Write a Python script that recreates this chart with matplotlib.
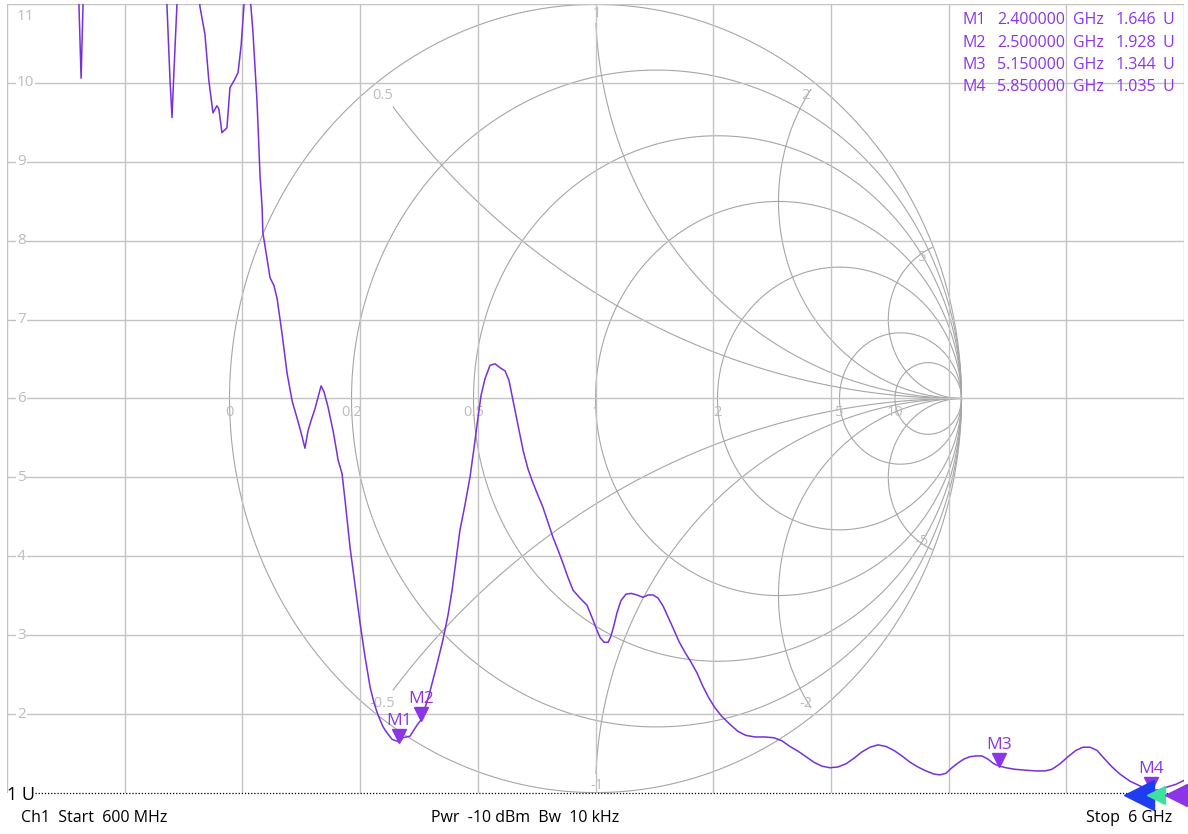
import numpy as np
import matplotlib.pyplot as plt
from matplotlib.transforms import offset_copy, blended_transform_factory

plt.rcParams['font.family'] = ['Open Sans', 'DejaVu Sans']

# VSWR trace (frequency in GHz, VSWR in U)
freq_ghz = [0.600, 0.843, 0.917, 0.930, 0.940, 0.949, 0.962, 1.027,
            1.256, 1.316, 1.334, 1.348, 1.357, 1.366, 1.380, 1.398, 1.430, 1.467,
            1.485, 1.508, 1.526, 1.545, 1.563, 1.572, 1.586, 1.609, 1.623, 1.642,
            1.660, 1.674, 1.687, 1.697, 1.710, 1.719, 1.728, 1.747, 1.761, 1.770,
            1.774, 1.793, 1.807, 1.825, 1.839, 1.862, 1.885, 1.908, 1.931, 1.949,
            1.967, 1.981, 1.995, 2.013, 2.041, 2.055, 2.073, 2.096, 2.110, 2.119,
            2.137, 2.151, 2.174, 2.197, 2.220, 2.243, 2.266, 2.284, 2.302, 2.325,
            2.344, 2.367, 2.400, 2.417, 2.431, 2.449, 2.467, 2.481, 2.500, 2.518,
            2.536, 2.554, 2.577, 2.600, 2.623, 2.642, 2.660, 2.678, 2.701, 2.724,
            2.743, 2.761, 2.775, 2.793, 2.816, 2.839, 2.862, 2.885, 2.903, 2.922,
            2.945, 2.968, 2.990, 3.009, 3.032, 3.059, 3.082, 3.105, 3.128, 3.151,
            3.174, 3.197, 3.229, 3.261, 3.289, 3.307, 3.321, 3.339, 3.358, 3.371,
            3.385, 3.399, 3.417, 3.440, 3.463, 3.490, 3.518, 3.541, 3.564, 3.587,
            3.610, 3.633, 3.656, 3.683, 3.711, 3.738, 3.766, 3.793, 3.821, 3.848,
            3.880, 3.917, 3.954, 3.990, 4.032, 4.078, 4.119, 4.156, 4.192, 4.229,
            4.266, 4.302, 4.339, 4.376, 4.412, 4.449, 4.486, 4.522, 4.559, 4.596,
            4.633, 4.669, 4.706, 4.743, 4.779, 4.816, 4.853, 4.880, 4.908, 4.935,
            4.963, 4.990, 5.018, 5.045, 5.073, 5.100, 5.128, 5.150, 5.183, 5.225,
            5.271, 5.317, 5.362, 5.394, 5.431, 5.468, 5.504, 5.536, 5.569, 5.601,
            5.633, 5.670, 5.706, 5.752, 5.798, 5.850, 5.890, 5.927, 5.963, 6.000]
vswr = [14.0, 14.0, 12.0, 11.0, 10.06, 11.0, 12.5, 14.0,
        14.0, 12.0, 10.97, 10.03, 9.56, 10.15, 10.99, 12.5, 13.5, 12.0,
        10.97, 10.62, 10.03, 9.62, 9.71, 9.67, 9.37, 9.43, 9.94, 10.03,
        10.13, 10.47, 10.97, 11.5, 11.3, 10.97, 10.66, 9.77, 8.82, 8.44,
        8.10, 7.77, 7.53, 7.43, 7.27, 6.82, 6.32, 5.97, 5.75, 5.57,
        5.37, 5.59, 5.72, 5.87, 6.16, 6.08, 5.89, 5.59, 5.37, 5.22,
        5.05, 4.71, 4.11, 3.63, 3.15, 2.72, 2.34, 2.14, 1.99, 1.84,
        1.76, 1.68, 1.646, 1.70, 1.71, 1.72, 1.80, 1.86, 1.928, 2.08,
        2.24, 2.43, 2.68, 2.94, 3.25, 3.57, 3.95, 4.33, 4.65, 5.00,
        5.38, 5.76, 6.04, 6.25, 6.42, 6.44, 6.39, 6.35, 6.23, 5.97,
        5.66, 5.34, 5.11, 4.96, 4.80, 4.62, 4.43, 4.24, 4.08, 3.91,
        3.73, 3.57, 3.47, 3.38, 3.19, 3.06, 2.97, 2.91, 2.91, 2.99,
        3.13, 3.29, 3.44, 3.52, 3.53, 3.51, 3.48, 3.51, 3.51, 3.47,
        3.37, 3.23, 3.09, 2.92, 2.78, 2.66, 2.52, 2.35, 2.20, 2.08,
        1.97, 1.87, 1.78, 1.73, 1.71, 1.71, 1.70, 1.66, 1.59, 1.53,
        1.46, 1.39, 1.34, 1.32, 1.33, 1.37, 1.44, 1.52, 1.58, 1.61,
        1.59, 1.54, 1.47, 1.39, 1.33, 1.28, 1.24, 1.23, 1.25, 1.32,
        1.38, 1.43, 1.46, 1.47, 1.47, 1.43, 1.37, 1.344, 1.32, 1.30,
        1.29, 1.28, 1.28, 1.30, 1.37, 1.46, 1.54, 1.58, 1.58, 1.54,
        1.44, 1.33, 1.24, 1.15, 1.09, 1.035, 1.04, 1.08, 1.11, 1.16]

mk_names = ['M1', 'M2', 'M3', 'M4']
mk_freq = [2.4, 2.5, 5.15, 5.85]
mk_vswr = [1.646, 1.928, 1.344, 1.035]

vswr_ticks = [2, 3, 4, 5, 6, 7, 8, 9, 10, 11]

# smith chart overlay
r_circles = [0, 0.2, 0.5, 1, 2, 5, 10]
r_labels = ['0', '0.2', '0.5', '1', '2', '5', '10']
x_arcs = [0.5, 1, 2, 5]
x_labels = ['0.5', '1', '2', '5']

grid_col = '#c3c3c3'
smith_col = '#a6a6a6'
label_col = '#bcbcbc'
trace_col = '#7630dc'
mk_col = '#8b35e6'

W, H = 1188, 834
fig = plt.figure(figsize=(W / 100, H / 100), dpi=100)
pos = [7 / W, 41 / H, 1177 / W, 789 / H]

# smith chart axes (reflection plane), sits under the trace axes
sm = fig.add_axes(pos)
sm.set_xlim(-1.608, 1.608)
sm.set_ylim(-1.001, 1.001)
sm.axis('off')

t = np.linspace(0, 2 * np.pi, 500)
for r in r_circles:
    c = r / (1 + r)
    rad = 1 / (1 + r)
    sm.plot(c + rad * np.cos(t), rad * np.sin(t), color=smith_col, lw=0.8)

rr = np.logspace(np.log10(0.05), 4, 800)
for xv in x_arcs:
    for s in (1, -1):
        z = rr + 1j * s * xv
        g = (z - 1) / (z + 1)
        sm.plot(g.real, g.imag, color=smith_col, lw=0.8)

for r, lab in zip(r_circles, r_labels):
    sm.text((r - 1) / (r + 1), -0.035, lab, ha='center', va='center',
            color=label_col, fontsize=10.5)

x_label_pos = [(-0.582, 0.768), (0.003, 0.977), (0.574, 0.768), (0.893, 0.359)]
for (gx, gy), lab in zip(x_label_pos, x_labels):
    sm.text(gx, gy, lab, ha='center', va='center', color=label_col, fontsize=10.5)
    sm.text(gx, -gy - 0.005, '-' + lab, ha='center', va='center',
            color=label_col, fontsize=10.5)

# VSWR axes
ax = fig.add_axes(pos)
ax.patch.set_alpha(0)
ax.set_xlim(0.6, 6.0)
ax.set_ylim(1, 11)
ax.set_xticks(np.linspace(0.6, 6.0, 11))
ax.set_yticks(vswr_ticks)
ax.grid(True, color=grid_col, lw=1.0)
ax.tick_params(length=0, labelbottom=False, labelleft=False)
for sp in ax.spines.values():
    sp.set_visible(False)

ytrans = blended_transform_factory(ax.transAxes, ax.transData)
for v in vswr_ticks[:-1]:
    ax.text(0.0085, v, str(v), transform=ytrans, ha='left', va='center',
            color=label_col, fontsize=11,
            bbox=dict(fc='white', ec='none', pad=0.5))
ax.text(0.0085, vswr_ticks[-1] - 0.06, str(vswr_ticks[-1]), transform=ytrans,
        ha='left', va='top', color=label_col, fontsize=11)

# reference line at 1 U
ax.axhline(1, xmin=28 / 1177, xmax=1.0, color='black', lw=0.9,
           ls=(0, (1, 1.5)), clip_on=False)

ax.plot(freq_ghz, vswr, color=trace_col, lw=1.1)

tri_trans = offset_copy(ax.transData, fig=fig, x=0, y=6, units='dots')
for name, f, v in zip(mk_names, mk_freq, mk_vswr):
    ax.plot(f, v, marker='v', ms=10, color=mk_col, transform=tri_trans,
            clip_on=False, lw=0)
    ax.annotate(name, (f, v), xytext=(0, 21), textcoords='offset pixels',
                ha='center', va='center', color=mk_col, fontsize=12.5)

# channel indicator triangles at the stop edge
for dx, ms, col in [(-45, 22, '#1f3df0'), (-28, 13, '#3ee0a0'), (-8, 16, '#8b35e6')]:
    tr = offset_copy(ax.transData, fig=fig, x=dx, y=-2, units='dots')
    ax.plot(6.0, 1.0, marker='<', ms=ms, color=col, transform=tr, clip_on=False, lw=0)

# marker table
col_x = [962, 997, 1073, 1116, 1162]
row_y = [20, 43, 65, 87]
for i, (name, f, v) in enumerate(zip(mk_names, mk_freq, mk_vswr)):
    cells = [name, f'{f:.6f}', 'GHz', f'{v:.3f}', 'U']
    for cx, txt in zip(col_x, cells):
        fig.text(cx / W, 1 - row_y[i] / H, txt, ha='left', va='center',
                 color=mk_col, fontsize=11.5)

# status line
fig.text(7 / W, 1 - 795 / H, '1 U', ha='left', va='center', fontsize=13, color='black')
fig.text(21 / W, 1 - 818 / H, 'Ch1  Start  600 MHz', ha='left', va='center',
         fontsize=11.5, color='black')
fig.text(431 / W, 1 - 818 / H, 'Pwr  -10 dBm  Bw  10 kHz', ha='left', va='center',
         fontsize=11.5, color='black')
fig.text(1172 / W, 1 - 818 / H, 'Stop  6 GHz', ha='right', va='center',
         fontsize=11.5, color='black')

fig.savefig('out.png', dpi=100)
